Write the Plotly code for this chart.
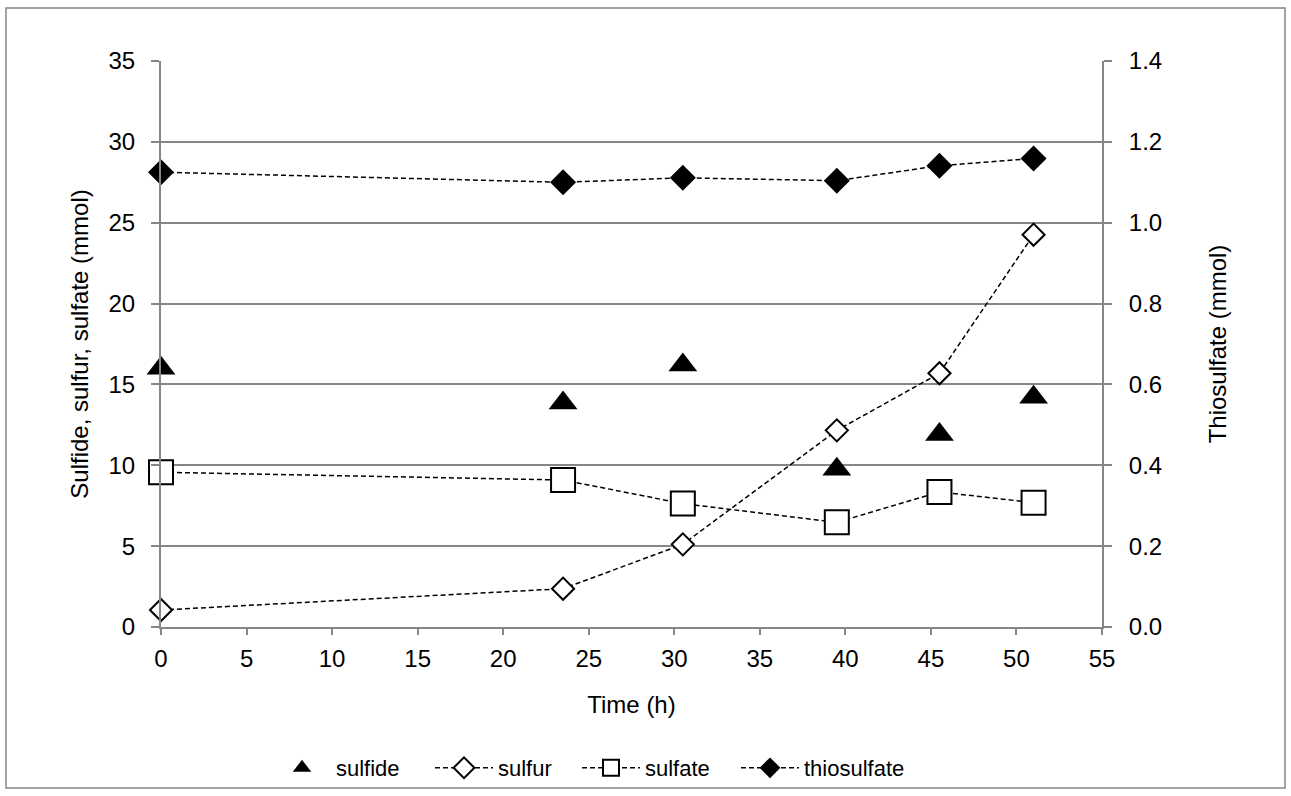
import plotly.graph_objects as go

time_h = [0, 23.5, 30.5, 39.5, 45.5, 51]
sulfide = [16.0, 13.85, 16.2, 9.75, 11.9, 14.2]
sulfur = [1.05, 2.37, 5.11, 12.16, 15.69, 24.26]
sulfate = [9.57, 9.09, 7.63, 6.47, 8.35, 7.69]
thiosulfate = [1.125, 1.100, 1.111, 1.104, 1.141, 1.159]

FONT = "Liberation Sans, Arial, sans-serif"
GRAY = "#868686"
DASH = "5px,3px"
TICKSIZE = 24
TITLESIZE = 24

fig = go.Figure()
fig.add_trace(go.Scatter(
    x=time_h, y=sulfide, name="sulfide", mode="markers", legendwidth=89,
    marker=dict(symbol="triangle-up", size=25, color="black"),
    cliponaxis=False))
fig.add_trace(go.Scatter(
    x=time_h, y=sulfur, name="sulfur", mode="lines+markers", legendwidth=74,
    line=dict(color="black", width=1.5, dash=DASH),
    marker=dict(symbol="diamond", size=17, color="white",
                line=dict(color="black", width=2)),
    cliponaxis=False))
fig.add_trace(go.Scatter(
    x=time_h, y=sulfate, name="sulfate", mode="lines+markers", legendwidth=86,
    line=dict(color="black", width=1.5, dash=DASH),
    marker=dict(symbol="square", size=24, color="white",
                line=dict(color="black", width=2)),
    cliponaxis=False))
fig.add_trace(go.Scatter(
    x=time_h, y=thiosulfate, name="thiosulfate", mode="lines+markers",
    yaxis="y2", legendwidth=125,
    line=dict(color="black", width=1.5, dash=DASH),
    marker=dict(symbol="diamond", size=20, color="black"),
    cliponaxis=False))

W, H = 1291, 796
L, R, T, B = 161, 1102, 61, 627

def px(xp):
    return (xp - L) / (R - L)

def py(yp):
    return (B - yp) / (B - T)

axis_common = dict(showline=True, linecolor=GRAY, linewidth=2,
                   ticks="outside", tickcolor=GRAY, tickwidth=2,
                   zeroline=False, automargin=False,
                   tickfont=dict(size=TICKSIZE, family=FONT))

fig.update_layout(
    width=W, height=H,
    margin=dict(l=L, r=W - R, t=T, b=H - B, autoexpand=False),
    paper_bgcolor="white", plot_bgcolor="white",
    font=dict(family=FONT, size=22, color="black"),
    showlegend=True,
    legend=dict(orientation="h", x=px(268), y=py(768), xanchor="left",
                yanchor="middle", font=dict(size=22, family=FONT),
                itemwidth=58, bgcolor="rgba(0,0,0,0)"),
    xaxis=dict(range=[0, 55], dtick=5, tick0=0, showgrid=False,
               ticklen=6, ticklabelstandoff=3,
               title=dict(text="Time (h)", standoff=25,
                          font=dict(size=TITLESIZE, family=FONT)),
               **axis_common),
    yaxis=dict(range=[0, 35], dtick=5, tick0=0, showgrid=True,
               gridcolor=GRAY, gridwidth=1.5, ticklen=8,
               ticklabelstandoff=11,
               title=dict(text="Sulfide, sulfur, sulfate (mmol)", standoff=13,
                          font=dict(size=TITLESIZE, family=FONT)),
               **axis_common),
    yaxis2=dict(range=[0, 1.4], dtick=0.2, tick0=0, overlaying="y",
                side="right", showgrid=False, ticklen=8,
                ticklabelstandoff=12, tickformat=".1f",
                title=dict(text="Thiosulfate (mmol)", standoff=48,
                           font=dict(size=TITLESIZE, family=FONT)),
                **axis_common),
    shapes=[dict(type="rect", xref="paper", yref="paper",
                 x0=px(6), x1=px(1285), y0=py(788), y1=py(8),
                 line=dict(color=GRAY, width=1.5), layer="below")],
)

fig.write_html("out.html", config={"displayModeBar": False},
               post_script="document.body.style.margin='0';")
